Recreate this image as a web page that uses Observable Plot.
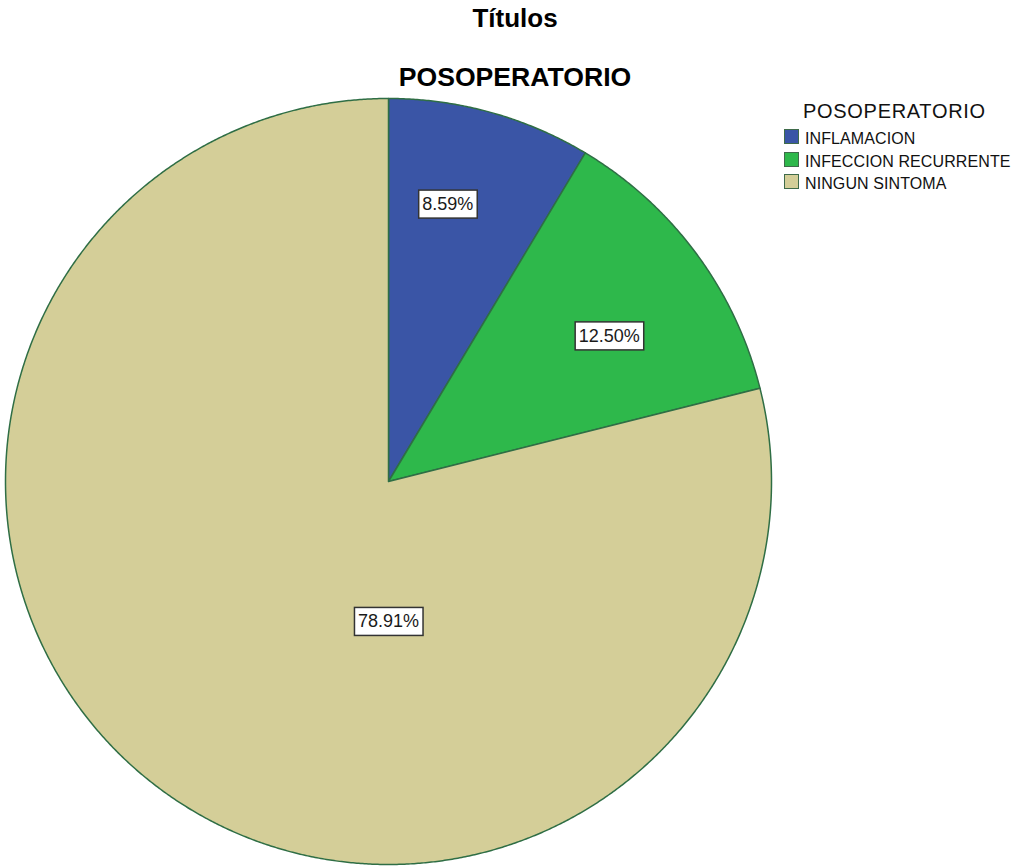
<!DOCTYPE html>
<html>
<head>
<meta charset="utf-8">
<script src="https://cdn.jsdelivr.net/npm/d3@7"></script>
<script src="https://cdn.jsdelivr.net/npm/@observablehq/plot@0.6"></script>
<style>
  html, body { margin: 0; padding: 0; background: #fff; }
  #wrap { position: relative; width: 1013px; height: 867px; font-family: "Liberation Sans", Arial, sans-serif; color: #000; }
  .title { position: absolute; left: 0; width: 1030px; text-align: center; font-weight: bold; font-size: 26px; line-height: 26px; white-space: nowrap; }
  #legend { position: absolute; left: 784px; top: 0; }
  .lg-title { position: absolute; left: 19px; top: 101px; font-size: 20px; line-height: 20px; letter-spacing: 0.7px; white-space: nowrap; color: #111; }
  .lg-item { position: absolute; left: 0; white-space: nowrap; height: 17px; }
  .lg-sw { position: absolute; left: 0; top: 0; width: 13px; height: 13px; border: 1.5px solid #3f6b4a; }
  .lg-tx { position: absolute; left: 21px; top: 2px; font-size: 16px; line-height: 16px; letter-spacing: 0.1px; color: #111; }
  svg { position: absolute; left: 0; top: 0; }
</style>
</head>
<body>
<div id="wrap"></div>
<script>
// ---- data ----
const titleText = "Títulos";
const subtitleText = "POSOPERATORIO";
const legendTitle = "POSOPERATORIO";
const categories = ["INFLAMACION", "INFECCION RECURRENTE", "NINGUN SINTOMA"];
const percents = [8.59, 12.50, 78.91];
const colors = ["#3a55a6", "#2eb84b", "#d4ce98"];

// ---- build slices from data (clockwise from 12 o'clock) ----
const pie = d3.pie().sort(null).value(d => d.value)(categories.map((c, i) => ({ cat: c, value: percents[i] })));
const pts = [];
pie.forEach(s => {
  const n = Math.max(4, Math.ceil((s.endAngle - s.startAngle) / 0.005));
  pts.push({ cat: s.data.cat, x: 0, y: 0 });
  for (let k = 0; k <= n; k++) {
    const a = s.startAngle + (s.endAngle - s.startAngle) * k / n;
    pts.push({ cat: s.data.cat, x: Math.sin(a), y: Math.cos(a) });
  }
  pts.push({ cat: s.data.cat, x: 0, y: 0 });
});
const labels = pie.map(s => {
  const frac = (s.endAngle - s.startAngle) / (2 * Math.PI);
  let a = (s.startAngle + s.endAngle) / 2, r = 0.72;
  if (frac > 0.5) { a = Math.PI; r = 0.366; }
  else if (frac < 0.1) { a = a * 0.78; r = 0.74; }
  else { a = a * 1.06; r = 0.69; }
  return { x: Math.sin(a) * r, y: Math.cos(a) * r, text: s.data.value.toFixed(2) + "%" };
});

const plot = Plot.plot({
  width: 1013,
  height: 867,
  margin: 0,
  x: { domain: [-1, 1], range: [5, 771], axis: null },
  y: { domain: [-1, 1], range: [864, 98], axis: null },
  color: { domain: categories, range: colors },
  marks: [
    Plot.line(pts, { x: "x", y: "y", z: "cat", fill: "cat", stroke: "#2f6e45", strokeWidth: 1.5, strokeLinejoin: "round", curve: "linear" }),
    Plot.text(labels, { x: "x", y: "y", text: "text", fontSize: 18, fontFamily: "Liberation Sans, Arial, sans-serif", fill: "#1a1a1a", textAnchor: "middle", lineAnchor: "middle" })
  ]
});

const wrap = document.getElementById("wrap");
wrap.appendChild(plot);

// white boxes behind pie labels
plot.querySelectorAll('g[aria-label="text"] text').forEach(t => {
  const b = t.getBBox();
  const r = document.createElementNS("http://www.w3.org/2000/svg", "rect");
  r.setAttribute("x", b.x - 3.5);
  r.setAttribute("y", b.y - 4);
  r.setAttribute("width", b.width + 7.5);
  r.setAttribute("height", b.height + 8);
  r.setAttribute("fill", "#fff");
  r.setAttribute("stroke", "#333");
  r.setAttribute("stroke-width", 1.5);
  const tr = t.getAttribute("transform");
  if (tr) r.setAttribute("transform", tr);
  t.parentNode.insertBefore(r, t);
});

// titles
const t1 = document.createElement("div");
t1.className = "title"; t1.style.top = "5px"; t1.textContent = titleText;
const t2 = document.createElement("div");
t2.className = "title"; t2.style.top = "64px"; t2.style.fontSize = "26.6px"; t2.textContent = subtitleText;
wrap.appendChild(t1); wrap.appendChild(t2);

// legend
const lg = document.createElement("div");
lg.id = "legend";
const lt = document.createElement("div");
lt.className = "lg-title"; lt.textContent = legendTitle;
lg.appendChild(lt);
const tops = [129, 152, 174];
categories.forEach((c, i) => {
  const it = document.createElement("div");
  it.className = "lg-item"; it.style.top = tops[i] + "px";
  const sw = document.createElement("div");
  sw.className = "lg-sw"; sw.style.background = colors[i];
  const tx = document.createElement("div");
  tx.className = "lg-tx"; tx.textContent = c;
  it.appendChild(sw); it.appendChild(tx);
  lg.appendChild(it);
});
wrap.appendChild(lg);
</script>
</body>
</html>
